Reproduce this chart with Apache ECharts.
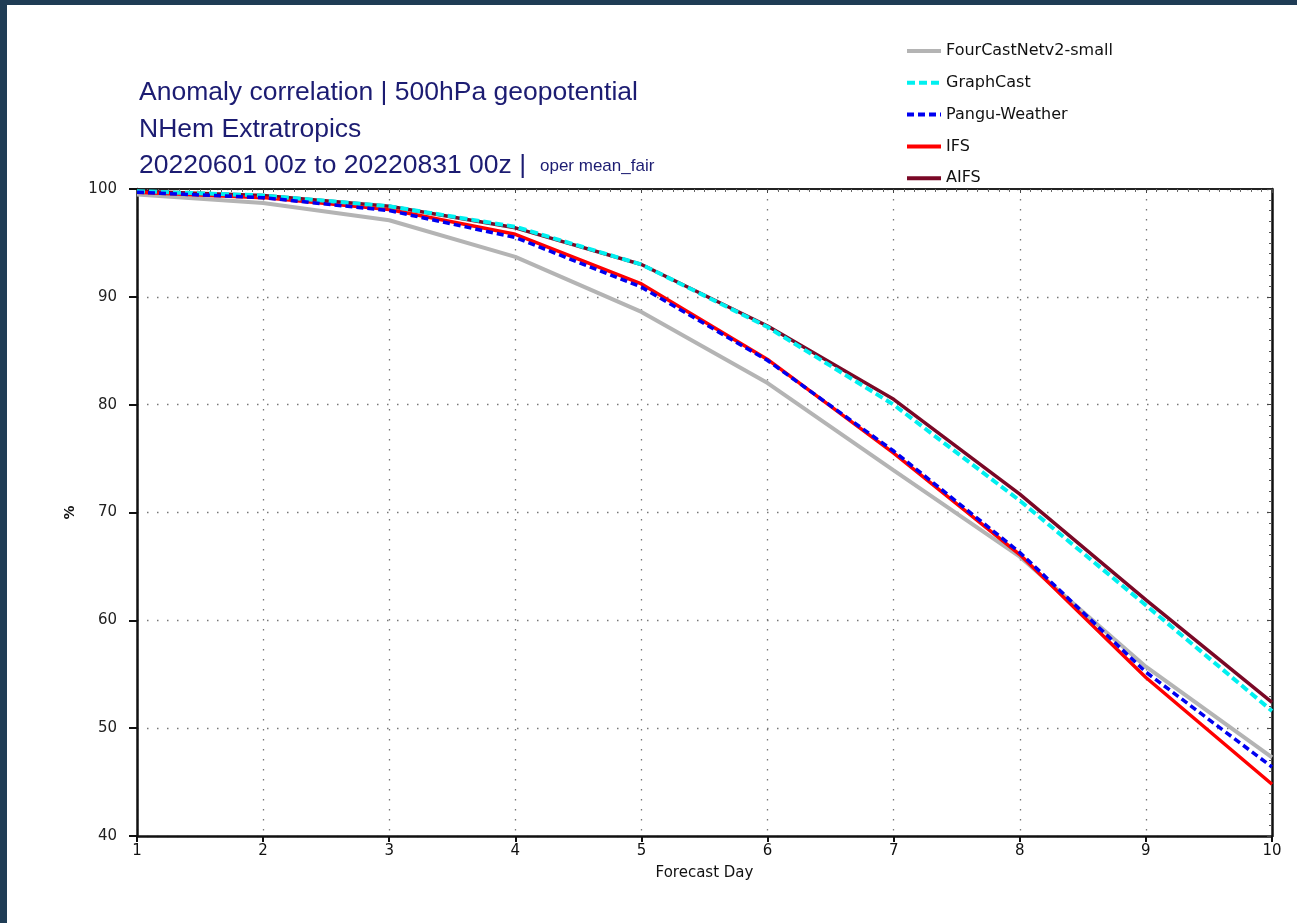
<!DOCTYPE html>
<html>
<head>
<meta charset="utf-8">
<script src="https://cdn.jsdelivr.net/npm/echarts@6/dist/echarts.min.js"></script>
<style>
html,body{margin:0;padding:0;background:#fff;}
#chart{position:absolute;left:0;top:0;width:1297px;height:923px;}
.bar{position:absolute;background:#1f3c55;z-index:10;}
</style>
</head>
<body>
<div id="chart"></div>
<div class="bar" style="left:0;top:0;width:1297px;height:5px;"></div>
<div class="bar" style="left:0;top:0;width:7px;height:923px;"></div>
<script>
const days = [1, 2, 3, 4, 5, 6, 7, 8, 9, 10];
const fourcastnet = [99.5, 98.7, 97.1, 93.7, 88.6, 82.0, 73.9, 65.9, 55.7, 47.3];
const graphcast   = [99.8, 99.4, 98.4, 96.5, 93.0, 87.2, 80.0, 71.1, 61.4, 51.6];
const pangu       = [99.7, 99.2, 98.0, 95.5, 90.9, 84.1, 75.7, 66.3, 55.2, 46.4];
const ifs         = [99.7, 99.2, 98.1, 95.8, 91.2, 84.2, 75.5, 66.1, 54.7, 44.8];
const aifs        = [99.8, 99.4, 98.4, 96.4, 93.0, 87.3, 80.5, 71.7, 61.9, 52.4];
const seriesNames = ['FourCastNetv2-small', 'GraphCast', 'Pangu-Weather', 'IFS', 'AIFS'];
const titleLines = ['Anomaly correlation | 500hPa geopotential', 'NHem Extratropics', '20220601 00z to 20220831 00z |'];
const subTitle = 'oper mean_fair';
const xAxisName = 'Forecast Day';
const yAxisName = '%';

function pairs(vals){ return days.map((d,i)=>[d, vals[i]]); }

const chart = echarts.init(document.getElementById('chart'), null, {renderer:'canvas'});
const titleColor = '#1c1c72';
const titleFont = '26.5px "Liberation Sans", Arial, sans-serif';
const gridLine = {show:true, lineStyle:{color:'#777', width:1.3, type:[1.5,8.5]}};

chart.setOption({
  backgroundColor:'#ffffff',
  animation:false,
  graphic:[
    {type:'text', left:139, top:79, style:{text:titleLines[0], font:titleFont, fill:titleColor}},
    {type:'text', left:139, top:116, style:{text:titleLines[1], font:titleFont, fill:titleColor}},
    {type:'text', left:139, top:152, style:{text:titleLines[2], font:titleFont, fill:titleColor}},
    {type:'text', left:540, top:158, style:{text:subTitle, font:'17px "Liberation Sans", Arial, sans-serif', fill:titleColor}}
  ],
  legend:{
    orient:'vertical', left:900, top:38, itemWidth:34, itemHeight:14, itemGap:15.8,
    data:seriesNames,
    itemStyle:{opacity:0},
    lineStyle:{width:4},
    textStyle:{fontFamily:'DejaVu Sans', fontSize:16, color:'#111'}
  },
  grid:{left:137, right:25, top:189, bottom:87, containLabel:false},
  xAxis:[
    {type:'value', min:1, max:10, interval:1, position:'bottom',
     name:xAxisName, nameLocation:'middle', nameGap:30,
     nameTextStyle:{fontFamily:'DejaVu Sans', fontSize:15, color:'#111'},
     axisLine:{show:true, onZero:false, lineStyle:{color:'#111', width:2.5}},
     axisTick:{show:true, length:6, lineStyle:{color:'#111', width:2}},
     axisLabel:{fontFamily:'DejaVu Sans', fontSize:15, color:'#111', margin:8, showMinLabel:true, showMaxLabel:true},
     splitLine:gridLine},
    {type:'value', min:1, max:10, interval:1, position:'top',
     axisLine:{show:true, onZero:false, lineStyle:{color:'#222', width:2}},
     axisTick:{show:true, inside:true, length:4, lineStyle:{color:'#444', width:1}},
     minorTick:{show:true, splitNumber:12, length:3, lineStyle:{color:'#666', width:1}},
     axisLabel:{show:false}, splitLine:{show:false}}
  ],
  yAxis:[
    {type:'value', min:40, max:100, interval:10, position:'left',
     name:yAxisName, nameLocation:'middle', nameGap:58, nameRotate:90,
     nameTextStyle:{fontFamily:'DejaVu Sans', fontSize:14, fontWeight:'bold', color:'#111'},
     axisLine:{show:true, onZero:false, lineStyle:{color:'#111', width:2.5}},
     axisTick:{show:true, length:8, lineStyle:{color:'#111', width:2}},
     axisLabel:{fontFamily:'DejaVu Sans', fontSize:15, color:'#222', margin:20},
     splitLine:gridLine},
    {type:'value', min:40, max:100, interval:10, position:'right',
     axisLine:{show:true, onZero:false, lineStyle:{color:'#111', width:2.5}},
     axisTick:{show:true, inside:true, length:5, lineStyle:{color:'#444', width:1}},
     minorTick:{show:true, splitNumber:10, length:3, lineStyle:{color:'#555', width:1}},
     axisLabel:{show:false}, splitLine:{show:false}}
  ],
  series:[
    {name:seriesNames[0], type:'line', data:pairs(fourcastnet), symbol:'none', z:2,
     lineStyle:{color:'#b4b4b4', width:4}, itemStyle:{color:'#b4b4b4'}},
    {name:seriesNames[1], type:'line', data:pairs(graphcast), symbol:'none', z:5,
     lineStyle:{color:'#00f0f0', width:4, type:[8,4]}, itemStyle:{color:'#00f0f0'}},
    {name:seriesNames[2], type:'line', data:pairs(pangu), symbol:'none', z:6,
     lineStyle:{color:'#0000f0', width:3.5, type:[7,4]}, itemStyle:{color:'#0000f0'}},
    {name:seriesNames[3], type:'line', data:pairs(ifs), symbol:'none', z:4,
     lineStyle:{color:'#ff0000', width:3.5}, itemStyle:{color:'#ff0000'}},
    {name:seriesNames[4], type:'line', data:pairs(aifs), symbol:'none', z:3,
     lineStyle:{color:'#7a0826', width:3.5}, itemStyle:{color:'#7a0826'}}
  ]
});
</script>
</body>
</html>
